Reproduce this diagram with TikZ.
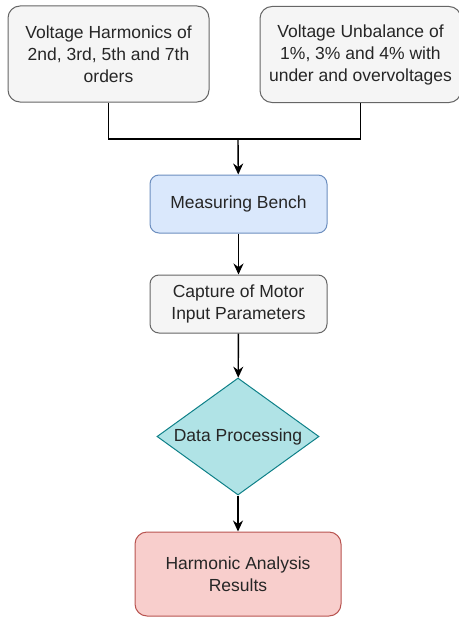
\documentclass[tikz,border=0pt]{standalone}
\usepackage{fontspec}
\setmainfont{Liberation Sans}
\usetikzlibrary{arrows.meta,shapes.geometric}
\definecolor{node_grey}{HTML}{F5F5F5}
\definecolor{edge_grey}{HTML}{666666}
\definecolor{node_blue}{HTML}{DAE8FC}
\definecolor{edge_blue}{HTML}{6C8EBF}
\definecolor{node_teal}{HTML}{B0E3E6}
\definecolor{edge_teal}{HTML}{0E8088}
\definecolor{node_red}{HTML}{F8CECC}
\definecolor{edge_red}{HTML}{B85450}
\begin{document}
\begin{tikzpicture}[x=1pt,y=-1pt,->,>={Stealth[length=11pt,width=10pt]},line width=1.4pt]
    \tikzstyle{step_box}=[draw, rectangle, rounded corners=12pt, line width=1pt, align=center, text=black!85, font=\fontsize{17.5}{22}\selectfont, inner sep=0pt]
    \tikzstyle{step_input}=[style=step_box, fill=node_grey, draw=edge_grey, minimum width=201pt, minimum height=96pt]
    \tikzstyle{step_bench}=[style=step_box, fill=node_blue, draw=edge_blue, minimum width=177pt, minimum height=58pt, rounded corners=9pt]
    \tikzstyle{step_capture}=[style=step_box, fill=node_grey, draw=edge_grey, minimum width=177pt, minimum height=58pt, rounded corners=9pt]
    \tikzstyle{step_data}=[draw, diamond, aspect=1.385, fill=node_teal, draw=edge_teal, line width=1pt, minimum width=162pt, minimum height=117pt, inner sep=0pt, text=black!85, font=\fontsize{17.5}{22}\selectfont]
    \tikzstyle{step_result}=[style=step_box, fill=node_red, draw=edge_red, minimum width=206pt, minimum height=84pt]

    \useasboundingbox (0,0) rectangle (458,618);

    \node[step_input]   (H) at (108.5,54)  {Voltage Harmonics of\\2nd, 3rd, 5th and 7th\\orders};
    \node[step_input]   (U) at (360.5,54.5) {Voltage Unbalance of\\1\%, 3\% and 4\% with\\under and overvoltages};
    \node[step_bench]   (M) at (238.5,204) {Measuring Bench};
    \node[step_capture] (C) at (238.5,304) {Capture of Motor\\Input Parameters};
    \node[step_data]    (D) at (238,436.5) {Data Processing};
    \node[step_result]  (R) at (238,574)   {Harmonic Analysis\\Results};
    \coordinate (J) at (238,139);

    \draw[-] (H.south) |- (J);
    \draw[-] (U.south) |- (J);
    \path
     (J) edge (M)
     (M) edge (C)
     (C) edge (D)
     (D) edge (R);
\end{tikzpicture}
\end{document}
